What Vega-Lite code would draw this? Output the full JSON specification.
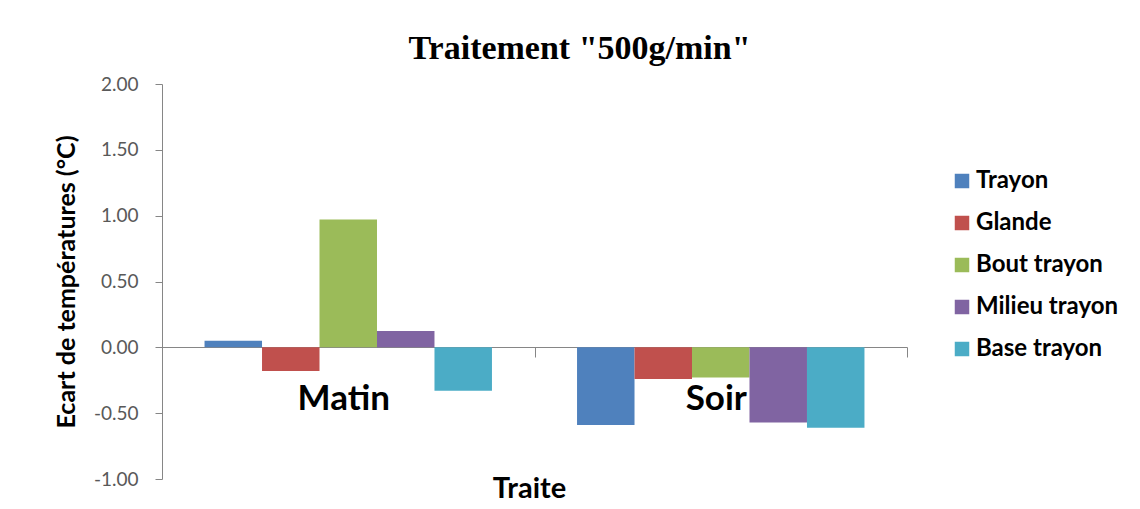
{
  "$schema": "https://vega.github.io/schema/vega-lite/v6.json",
  "autosize": "none",
  "width": 745,
  "height": 395,
  "padding": {"left": 162, "top": 84, "right": 233, "bottom": 30},
  "background": "white",
  "title": {
    "text": "Traitement \"500g/min\"",
    "font": "Liberation Serif",
    "fontSize": 34,
    "fontWeight": "bold",
    "color": "black",
    "anchor": "middle",
    "frame": "group",
    "dx": 45,
    "offset": 9
  },
  "data": {
    "values": [
      {"traite": "Matin", "zone": "Trayon", "ecart": 0.05},
      {"traite": "Matin", "zone": "Glande", "ecart": -0.18},
      {"traite": "Matin", "zone": "Bout trayon", "ecart": 0.97},
      {"traite": "Matin", "zone": "Milieu trayon", "ecart": 0.125},
      {"traite": "Matin", "zone": "Base trayon", "ecart": -0.33},
      {"traite": "Soir", "zone": "Trayon", "ecart": -0.59},
      {"traite": "Soir", "zone": "Glande", "ecart": -0.24},
      {"traite": "Soir", "zone": "Bout trayon", "ecart": -0.23},
      {"traite": "Soir", "zone": "Milieu trayon", "ecart": -0.57},
      {"traite": "Soir", "zone": "Base trayon", "ecart": -0.61}
    ]
  },
  "mark": {"type": "bar"},
  "encoding": {
    "x": {
      "field": "traite",
      "type": "nominal",
      "title": "Traite",
      "scale": {"paddingInner": 0, "paddingOuter": 0},
      "axis": {
        "offset": -132,
        "labelAngle": 0,
        "labelFont": "Lato",
        "labelFontSize": 35,
        "labelFontWeight": "bold",
        "labelColor": "black",
        "labelPadding": 24,
        "labelOffset": -5,
        "tickBand": "extent",
        "tickSize": 10,
        "tickColor": "#868686",
        "domainColor": "#868686",
        "titleFont": "Lato",
        "titleFontSize": 29,
        "titleFontWeight": "bold",
        "titleColor": "black",
        "titleX": 367,
        "titleAlign": "center",
        "titleY": 127,
        "titleBaseline": "top"
      }
    },
    "xOffset": {
      "field": "zone",
      "type": "nominal",
      "sort": ["Trayon", "Glande", "Bout trayon", "Milieu trayon", "Base trayon"],
      "scale": {"paddingInner": 0, "paddingOuter": 0.74}
    },
    "y": {
      "field": "ecart",
      "type": "quantitative",
      "title": "Ecart de températures (°C)",
      "scale": {"domain": [-1, 2], "nice": false, "zero": false},
      "axis": {
        "values": [-1, -0.5, 0, 0.5, 1, 1.5, 2],
        "format": ".2f",
        "grid": false,
        "labelFont": "Lato",
        "labelFontSize": 19,
        "labelColor": "#595959",
        "labelPadding": 17,
        "tickSize": 7,
        "tickColor": "#868686",
        "domainColor": "#868686",
        "titleFont": "Lato",
        "titleFontSize": 25,
        "titleFontWeight": "bold",
        "titleColor": "black",
        "titlePadding": 14
      }
    },
    "color": {
      "field": "zone",
      "type": "nominal",
      "sort": ["Trayon", "Glande", "Bout trayon", "Milieu trayon", "Base trayon"],
      "scale": {
        "domain": ["Trayon", "Glande", "Bout trayon", "Milieu trayon", "Base trayon"],
        "range": ["#4F81BD", "#C0504D", "#9BBB59", "#8064A2", "#4BACC6"]
      },
      "legend": {
        "title": null,
        "orient": "none",
        "legendX": 788,
        "legendY": 85,
        "symbolType": "square",
        "symbolSize": 210,
        "symbolStrokeWidth": 0,
        "labelFont": "Lato",
        "labelFontSize": 24,
        "labelFontWeight": "bold",
        "labelColor": "black",
        "labelOffset": 2,
        "rowPadding": 18,
        "labelLimit": 300
      }
    }
  },
  "config": {
    "view": {"stroke": null},
    "locale": {
      "number": {
        "decimal": ".",
        "thousands": ",",
        "grouping": [3],
        "currency": ["$", ""],
        "minus": "-"
      }
    }
  }
}
